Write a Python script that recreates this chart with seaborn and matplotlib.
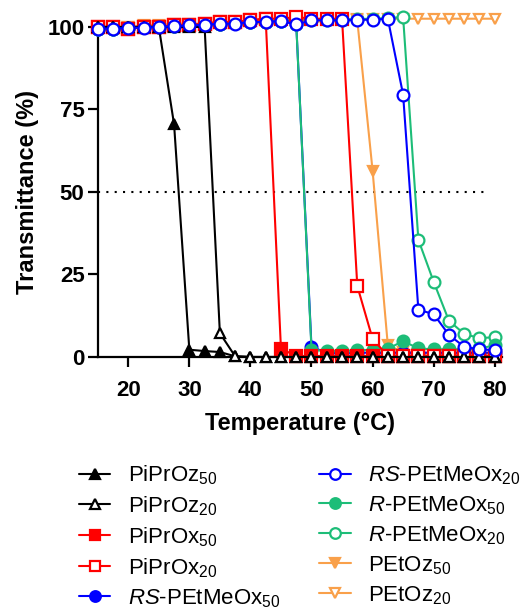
import matplotlib
matplotlib.use('Agg')
import matplotlib.pyplot as plt
import seaborn as sns
import numpy as np
import pandas as pd

# temperatures (°C), one reading every 2.5 °C
temps = [15, 17.5, 20, 22.5, 25, 27.5, 30, 32.5, 35, 37.5, 40, 42.5, 45, 47.5,
         50, 52.5, 55, 57.5, 60, 62.5, 65, 67.5, 70, 72.5, 75, 77.5, 80]

# transmittance (%)
piproz50 = [100, 100, 100, 100, 100, 70.5, 2.2, 1.8, 1.5, 0.2, 0, 0, 0, 0,
            0, 0, 0, 0, 0, 0, 0, 0, 0, 0, 0, 0, 0]
piproz20 = [100, 100, 100, 100, 100, 100, 100, 100, 7.2, 0.2, 0, 0, 0, 0,
            0, 0, 0, 0, 0, 0, 0, 0, 0, 0, 0, 0, 0]
piprox50 = [100, 100, 99.5, 100, 100, 100.5, 100.5, 101, 101.5, 101.5, 102, 102.5, 2.5, 0.3,
            0.3, 0.3, 0.3, 0.3, 0.3, 0.3, 0.3, 0.3, 0.3, 0.3, 0.3, 0.3, 0.3]
piprox20 = [100, 100, 99.5, 100, 100, 100.5, 100.5, 101, 101.5, 101.5, 102, 102.5, 102.5, 103,
            102.5, 102.5, 102.5, 21.5, 5.5, 0.3, 0.3, 0.3, 0.3, 0.3, 0.3, 0.3, 0.3]
rs50 = [99.5, 99.5, 99.7, 100, 100, 100.3, 100.5, 100.8, 101, 101.2, 101.5, 101.5, 101.8, 101,
        3.1, 1.2, 1.2, 1.3, 1.3, 1.3, 1.3, 1.3, 1.3, 1.3, 1.3, 1.3, 1.3]
rs20 = [99.5, 99.5, 99.7, 99.8, 100, 100.2, 100.5, 100.6, 101, 101, 101.5, 101.5, 101.8, 100.8,
        102, 102, 102, 102.2, 102.2, 102.5, 79.5, 14.3, 13, 6.7, 3.1, 2.3, 2.1]
r50 = [99.5, 99.5, 99.7, 100, 100, 100.3, 100.5, 100.8, 101, 101.2, 101.5, 101.5, 101.8, 101,
       2.2, 1.8, 1.8, 2, 2.2, 2.5, 4.8, 2.6, 2.3, 2.3, 2.3, 2.6, 3.5]
r20 = [99.5, 99.5, 99.7, 100, 100, 100.3, 100.5, 100.8, 101, 101.2, 101.5, 101.5, 101.8, 102,
       102, 102.2, 102.2, 102.4, 102.5, 102.7, 103, 35.5, 22.8, 11, 7, 5.7, 6]
petoz50 = [100, 100, 100, 100, 100, 100.3, 100.5, 100.5, 100.8, 101, 101, 101.2, 101.5, 101.5,
           101.5, 101.8, 102, 102, 56.5, 3.5, 1.5, 1, 1, 1, 1, 1, 1]
petoz20 = [100, 100, 100, 100.5, 100.5, 101, 101, 101, 101.5, 101.5, 101.5, 102, 102, 102,
           102, 102, 102.3, 102.3, 102.3, 102.5, 102.5, 102.5, 102.5, 102.5, 102.5, 102.5, 102.5]

labels = [r'PiPrOz$_{50}$', r'PiPrOz$_{20}$', r'PiPrOx$_{50}$', r'PiPrOx$_{20}$',
          r'$\mathit{RS}$-PEtMeOx$_{50}$', r'$\mathit{RS}$-PEtMeOx$_{20}$',
          r'$\mathit{R}$-PEtMeOx$_{50}$', r'$\mathit{R}$-PEtMeOx$_{20}$',
          r'PEtOz$_{50}$', r'PEtOz$_{20}$']
series = [piproz50, piproz20, piprox50, piprox20, rs50, rs20, r50, r20, petoz50, petoz20]

green = '#1DBD78'
orange = '#F9A04A'
# color, marker, filled, zorder, size
styles = [('black', '^', True, 6, 7.5), ('black', '^', False, 7, 7.5),
          ('#FF0000', 's', True, 4, 8), ('#FF0000', 's', False, 4.5, 8),
          ('#0000FF', 'o', True, 3.5, 8.5), ('#0000FF', 'o', False, 8, 8.5),
          (green, 'o', True, 3.7, 8.5), (green, 'o', False, 3, 8.5),
          (orange, 'v', True, 3.2, 7.5), (orange, 'v', False, 2, 7.5)]

sns.set_style('ticks')
plt.rcParams['font.family'] = ['Liberation Sans', 'DejaVu Sans']
plt.rcParams['mathtext.fontset'] = 'custom'
plt.rcParams['mathtext.rm'] = 'Liberation Sans'
plt.rcParams['mathtext.it'] = 'Liberation Sans:italic'
for k in ['text.color', 'axes.labelcolor', 'xtick.color', 'ytick.color', 'axes.edgecolor']:
    plt.rcParams[k] = 'black'

fig = plt.figure(figsize=(5.32, 6.14), dpi=100)
ax = fig.add_axes([0.1837, 0.4186, 0.76, 0.5375])

for vals, lab, (col, mk, filled, z, ms) in zip(series, labels, styles):
    df = pd.DataFrame({'Temperature': temps, 'Transmittance': vals})
    sns.lineplot(data=df, x='Temperature', y='Transmittance', ax=ax, color=col,
                 marker=mk, markersize=ms, markeredgewidth=1.6,
                 markeredgecolor=col, markerfacecolor=col if filled else 'white',
                 linewidth=1.5, label=lab, zorder=z, clip_on=False)

ax.hlines(50, 15, 79, colors='black', linestyles=(0, (1, 3)), linewidth=1.5, zorder=1)

ax.set_xlim(15, 81.2)
ax.set_ylim(0, 100)
ax.set_xticks([20, 30, 40, 50, 60, 70, 80])
ax.set_yticks([0, 25, 50, 75, 100])
sns.despine(ax=ax)
for s in ['left', 'bottom']:
    ax.spines[s].set_linewidth(1.6)
ax.tick_params(axis='both', length=7.5, width=1.6, labelsize=16)
ax.tick_params(axis='y', pad=2)
ax.tick_params(axis='x', pad=9)
for t in ax.get_xticklabels() + ax.get_yticklabels():
    t.set_fontweight('bold')
ax.set_xlabel('Temperature (°C)', fontsize=17, fontweight='bold', labelpad=8)
ax.set_ylabel('Transmittance (%)', fontsize=17, fontweight='bold', labelpad=6)

handles, labs = ax.get_legend_handles_labels()
ax.get_legend().remove()
fig.legend(handles, labs, ncol=2, loc='upper left', bbox_to_anchor=(0.128, 0.2635),
           frameon=False, fontsize=16, handlelength=1.4, handletextpad=0.8,
           columnspacing=1.75, labelspacing=0.33, borderpad=0, markerscale=0.9)

fig.savefig('out.png', dpi=100)
